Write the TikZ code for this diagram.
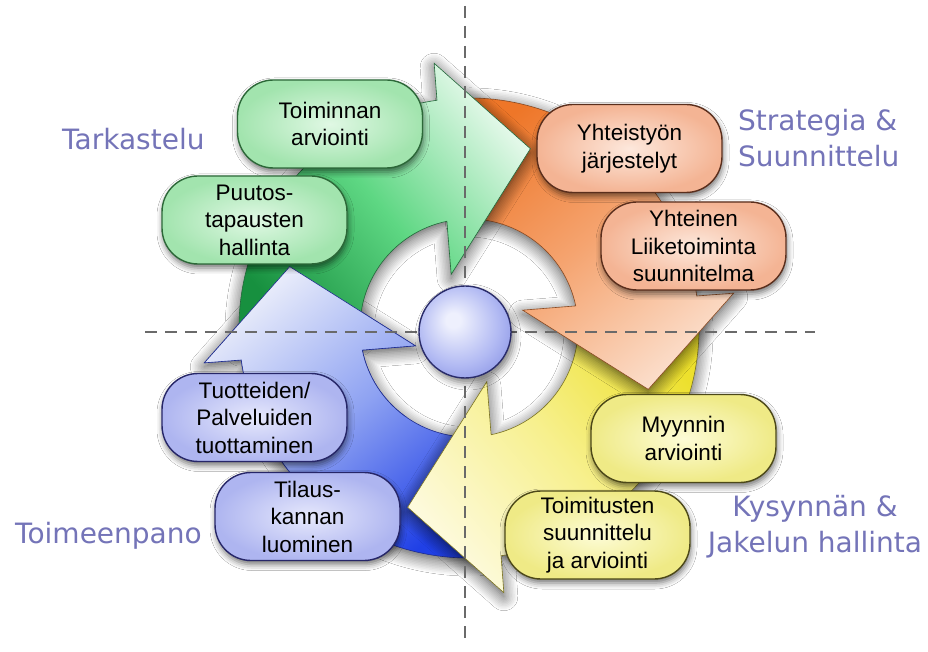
\documentclass[tikz,border=0pt]{standalone}
\usepackage{fontspec}
\setmainfont{Liberation Sans}
\newfontfamily\quadfont{DejaVu Sans}
\usetikzlibrary{shadows.blur}

% arrow colours: pale head, middle, deep tail, outline
\definecolor{gPale}{HTML}{E2F8E8}
\definecolor{gMid}{HTML}{5ED783}
\definecolor{gDeep}{HTML}{17903F}
\definecolor{gEdge}{HTML}{23683A}
\definecolor{oPale}{HTML}{FBDCC8}
\definecolor{oMid}{HTML}{F5A470}
\definecolor{oDeep}{HTML}{EE7628}
\definecolor{oEdge}{HTML}{8A4A22}
\definecolor{yPale}{HTML}{FDFADC}
\definecolor{yMid}{HTML}{F7F08E}
\definecolor{yDeep}{HTML}{EDE02C}
\definecolor{yEdge}{HTML}{7C7422}
\definecolor{bPale}{HTML}{E6EAFA}
\definecolor{bMid}{HTML}{8EA2F2}
\definecolor{bDeep}{HTML}{2040E6}
\definecolor{bEdge}{HTML}{1E2C8E}
% box colours
\definecolor{gBoxIn}{HTML}{E0F8E4}
\definecolor{gBoxOut}{HTML}{A2E4AE}
\definecolor{gBoxLine}{HTML}{2C6838}
\definecolor{oBoxIn}{HTML}{FDE8DC}
\definecolor{oBoxOut}{HTML}{F4B494}
\definecolor{oBoxLine}{HTML}{5A2E1C}
\definecolor{yBoxIn}{HTML}{FDFCD6}
\definecolor{yBoxOut}{HTML}{EFEA86}
\definecolor{yBoxLine}{HTML}{4C4818}
\definecolor{bBoxIn}{HTML}{E6E8FC}
\definecolor{bBoxOut}{HTML}{AEB5F0}
\definecolor{bBoxLine}{HTML}{262668}
% other
\definecolor{quadText}{HTML}{7474B8}
\definecolor{guideGray}{HTML}{6A6A6A}
\definecolor{orbHi}{HTML}{EEF0FD}
\definecolor{orbMid}{HTML}{B2BAF3}
\definecolor{orbLo}{HTML}{8C96E6}
\definecolor{orbLine}{HTML}{2A2C6A}

\pgfdeclareradialshading{orbshade}{\pgfpoint{-7bp}{7bp}}{%
  color(0bp)=(orbHi); color(4bp)=(orbHi); color(22bp)=(orbMid);
  color(33bp)=(orbLo); color(50bp)=(orbLo)}

% one quarter-ring arrow, turned by #1 degrees around the current origin
\newcommand\ringarrow[2]{%
  \path[#2] (97.5+#1:267) -- (71.1+#1:189.5) -- (108.4+#1:56.5) -- (101.7+#1:109)
    arc[start angle=101.7+#1, end angle=185+#1, radius=109]
    -- (185+#1:230) arc[start angle=185+#1, end angle=98+#1, radius=230] -- cycle;}

\begin{document}
\begin{tikzpicture}[x=1pt, y=1pt,
  arrowshadow/.style={blur shadow={shadow xshift=0pt, shadow yshift=-4pt,
      shadow blur radius=14pt, shadow blur steps=10, shadow opacity=70}},
  greenarrow/.style={draw=gEdge, line width=0.6pt, top color=gPale,
      bottom color=gDeep, middle color=gMid, shading angle=-50},
  orangearrow/.style={draw=oEdge, line width=0.6pt, top color=oPale,
      bottom color=oDeep, middle color=oMid, shading angle=-140},
  yellowarrow/.style={draw=yEdge, line width=0.6pt, top color=yPale,
      bottom color=yDeep, middle color=yMid, shading angle=130},
  bluearrow/.style={draw=bEdge, line width=0.6pt, top color=bPale,
      bottom color=bDeep, middle color=bMid, shading angle=40},
  guide/.style={draw=guideGray, line width=1.4pt, dash pattern=on 12pt off 8pt},
  stepbox/.style={rounded corners=36pt, minimum width=185pt, minimum height=88pt,
      align=center, inner sep=0pt, line width=1.4pt,
      font=\fontsize{22.5}{27.5}\selectfont,
      blur shadow={shadow xshift=1pt, shadow yshift=-4pt,
      shadow blur radius=6pt, shadow opacity=55}},
  gbox/.style={stepbox, draw=gBoxLine, inner color=gBoxIn, outer color=gBoxOut},
  obox/.style={stepbox, draw=oBoxLine, inner color=oBoxIn, outer color=oBoxOut},
  ybox/.style={stepbox, draw=yBoxLine, inner color=yBoxIn, outer color=yBoxOut},
  bbox/.style={stepbox, draw=bBoxLine, inner color=bBoxIn, outer color=bBoxOut},
  quad/.style={inner sep=0pt, text=quadText,
      font=\quadfont\fontsize{28}{36}\selectfont},
  orb/.style={circle, minimum size=92pt, inner sep=0pt, draw=orbLine,
      line width=1.4pt, shade, shading=orbshade,
      blur shadow={shadow xshift=3pt, shadow yshift=-5pt,
      shadow blur radius=7pt, shadow opacity=50}}]

\useasboundingbox (0,0) rectangle (928,651);
\fill[white] (0,0) rectangle (928,651);

% the four arrows of the cycle, each head lying over the next tail
\begin{scope}[shift={(469,323)}]
  \ringarrow{90}{bluearrow, arrowshadow}
  \ringarrow{-180}{yellowarrow, arrowshadow}
  \ringarrow{-90}{orangearrow, arrowshadow}
  \ringarrow{0}{greenarrow, arrowshadow}
  % blue head again, on top of the green tail
  \begin{scope}
    \clip (0,0) -- (115:420) arc[start angle=115, end angle=235, radius=420] -- cycle;
    \ringarrow{90}{bluearrow}
  \end{scope}
\end{scope}

% quadrant guides
\coordinate (vtop) at (465,645);
\coordinate (vbot) at (465,6);
\coordinate (hleft) at (145,319);
\coordinate (hright) at (815,319);
\draw[guide] (vtop) -- (vbot);
\draw[guide] (hleft) -- (hright);

% hub
\node[orb] (hub) at (465,319) {};

% process steps
\node[gbox] (toim) at (330,527) {Toiminnan\\arviointi};
\node[gbox] (puut) at (254.5,431) {Puutos-\\tapausten\\hallinta};
\node[obox] (yhtj) at (629.5,502.5) {Yhteistyön\\järjestelyt};
\node[obox] (yhtl) at (693.5,405) {Yhteinen\\Liiketoiminta\\suunnitelma};
\node[ybox] (myyn) at (683.5,212.5) {Myynnin\\arviointi};
\node[ybox] (toimit) at (597.5,116) {Toimitusten\\suunnittelu\\ja arviointi};
\node[bbox] (tuot) at (254.5,233.5) {Tuotteiden/\\Palveluiden\\tuottaminen};
\node[bbox] (tila) at (307.5,134.5) {Tilaus-\\kannan\\luominen};

% quadrant titles (base anchor sits on the last line)
\node[quad, anchor=base west] (qtark) at (62,501) {Tarkastelu};
\node[quad, align=left, anchor=base west] (qstrat) at (738,484) {Strategia \&\\Suunnittelu};
\node[quad, align=center, anchor=base] (qkys) at (815,99) {Kysynnän \&\\Jakelun hallinta};
\node[quad, anchor=base west] (qtoim) at (15,108) {Toimeenpano};
\end{tikzpicture}
\end{document}
